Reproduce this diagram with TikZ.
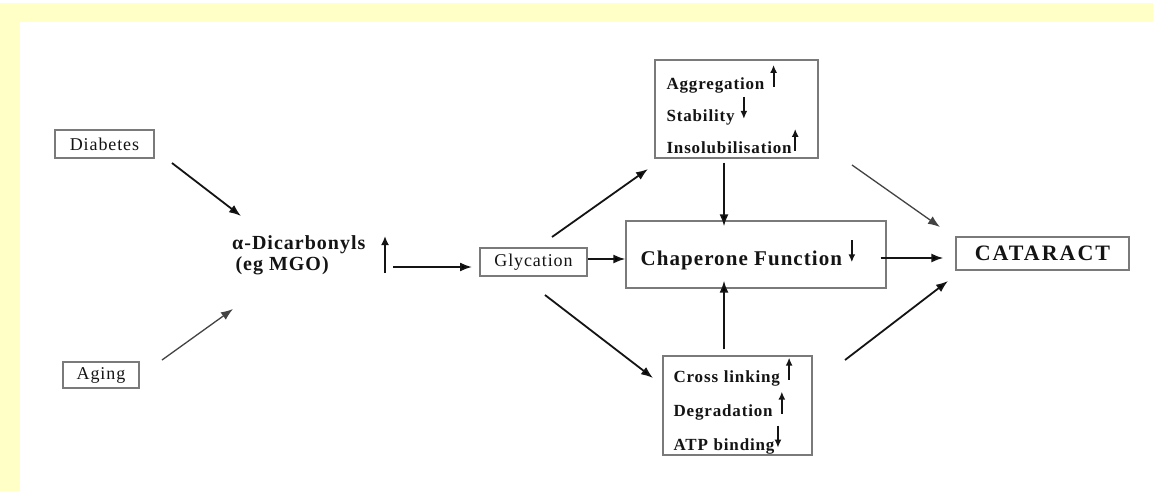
\documentclass[tikz,border=0pt]{standalone}
\usepackage{fontspec}
\setmainfont{Liberation Serif}[LetterSpace=5]
\usetikzlibrary{arrows.meta}
\definecolor{bandyellow}{HTML}{FFFFC6}
\definecolor{boxgray}{HTML}{7A7A7A}
\definecolor{ink}{HTML}{141414}
\newcommand\myup{\tikz[baseline=-3pt]\draw[ink,line width=2pt,-{Latex[length=8pt,width=7pt]}] (0pt,0pt)--(0pt,22pt);}
\newcommand\mydown{\tikz[baseline=-3pt]\draw[ink,line width=2pt,-{Latex[length=8pt,width=7pt]}] (0pt,22pt)--(0pt,0pt);}
\tikzset{
  box/.style={draw=boxgray,line width=1.3pt,fill=white,text=ink,inner sep=0pt},
  plain/.style={text=ink,inner sep=0pt},
  arr/.style={draw=ink,line width=1.8pt,-{Latex[length=12pt,width=9pt]}},
  thinarr/.style={draw=ink!80,line width=1.3pt,-{Latex[length=12pt,width=9pt]}}
}
\begin{document}
\begin{tikzpicture}[x=1pt,y=-1pt]
\useasboundingbox (0,0) rectangle (1153,491);
\fill[white] (0,0) rectangle (1153,491);
\fill[bandyellow] (0,3) rectangle (1153,22);
\fill[bandyellow] (0,3) rectangle (20,491);

% nodes
\node[box,minimum width=99,minimum height=28,font=\fontsize{18}{20}\selectfont] (diab) at (104.5,144) {Diabetes};
\node[box,minimum width=76,minimum height=26,font=\fontsize{18}{20}\selectfont] (aging) at (101,375) {Aging};
\node[plain,anchor=west,align=left,font=\bfseries\fontsize{20}{21}\selectfont] (dicarb) at (232,255) {α-Dicarbonyls\\\,(eg MGO)};
\node[box,minimum width=107,minimum height=28,font=\fontsize{18}{20}\selectfont] (glyc) at (533.5,262) {Glycation};
\node[box,minimum width=260,minimum height=67,font=\bfseries\fontsize{21}{22}\selectfont] (chap) at (756,254.5) {Chaperone Function \mydown\hspace*{16pt}};
\node[box,text width=140,inner xsep=11.5,minimum height=98,align=left,font=\bfseries\fontsize{17}{32}\selectfont] (top) at (736.5,109) {Aggregation \myup\\Stability \mydown\\Insolubilisation\myup};
\node[box,text width=128,inner xsep=10.5,minimum height=99,align=left,font=\bfseries\fontsize{17}{34}\selectfont] (bot) at (737.5,405.5) {Cross linking \myup\\Degradation \myup\\ATP binding\mydown};
\node[box,minimum width=173,minimum height=33,font=\bfseries\fontsize{22}{24}\selectfont\addfontfeature{LetterSpace=9}] (cat) at (1042.5,253.5) {CATARACT};

% named connector ends
\coordinate (diabOut) at (172,163);
\coordinate (dicarbInA) at (241,216);
\coordinate (agingOut) at (162,360);
\coordinate (dicarbInB) at (233,309);
\coordinate (upBase) at (385,273);
\coordinate (upTip) at (385,236);
\coordinate (dicarbOut) at (393,267);
\coordinate (glycIn) at (472,267);
\coordinate (glycOutA) at (552,237);
\coordinate (topIn) at (648,169);
\coordinate (glycOutB) at (545,295);
\coordinate (botIn) at (653,378);
\coordinate (topOut) at (852,165);
\coordinate (catInA) at (940,227);
\coordinate (botOut) at (845,360);
\coordinate (catInB) at (948,281);

% connectors
\draw[arr] (diabOut) -- (dicarbInA);
\draw[thinarr] (agingOut) -- (dicarbInB);
\draw[ink,line width=1.8pt,-{Latex[length=9pt,width=8pt]}] (upBase) -- (upTip);
\draw[arr] (dicarbOut) -- (glycIn);
\draw[arr] (glyc.east |- 0,259) -- (chap.west |- 0,259);
\draw[arr] (glycOutA) -- (topIn);
\draw[arr] (glycOutB) -- (botIn);
\draw[arr] (top.south -| 724,0) ++(0,4) -- ([yshift=-6]chap.north -| 724,0);
\draw[arr] (bot.north -| 724,0) ++(0,-6) -- ([yshift=8]chap.south -| 724,0);
\draw[arr] (chap.east |- 0,258) ++(-6,0) -- ([xshift=-12]cat.west |- 0,258);
\draw[thinarr] (topOut) -- (catInA);
\draw[arr] (botOut) -- (catInB);
\end{tikzpicture}
\end{document}
